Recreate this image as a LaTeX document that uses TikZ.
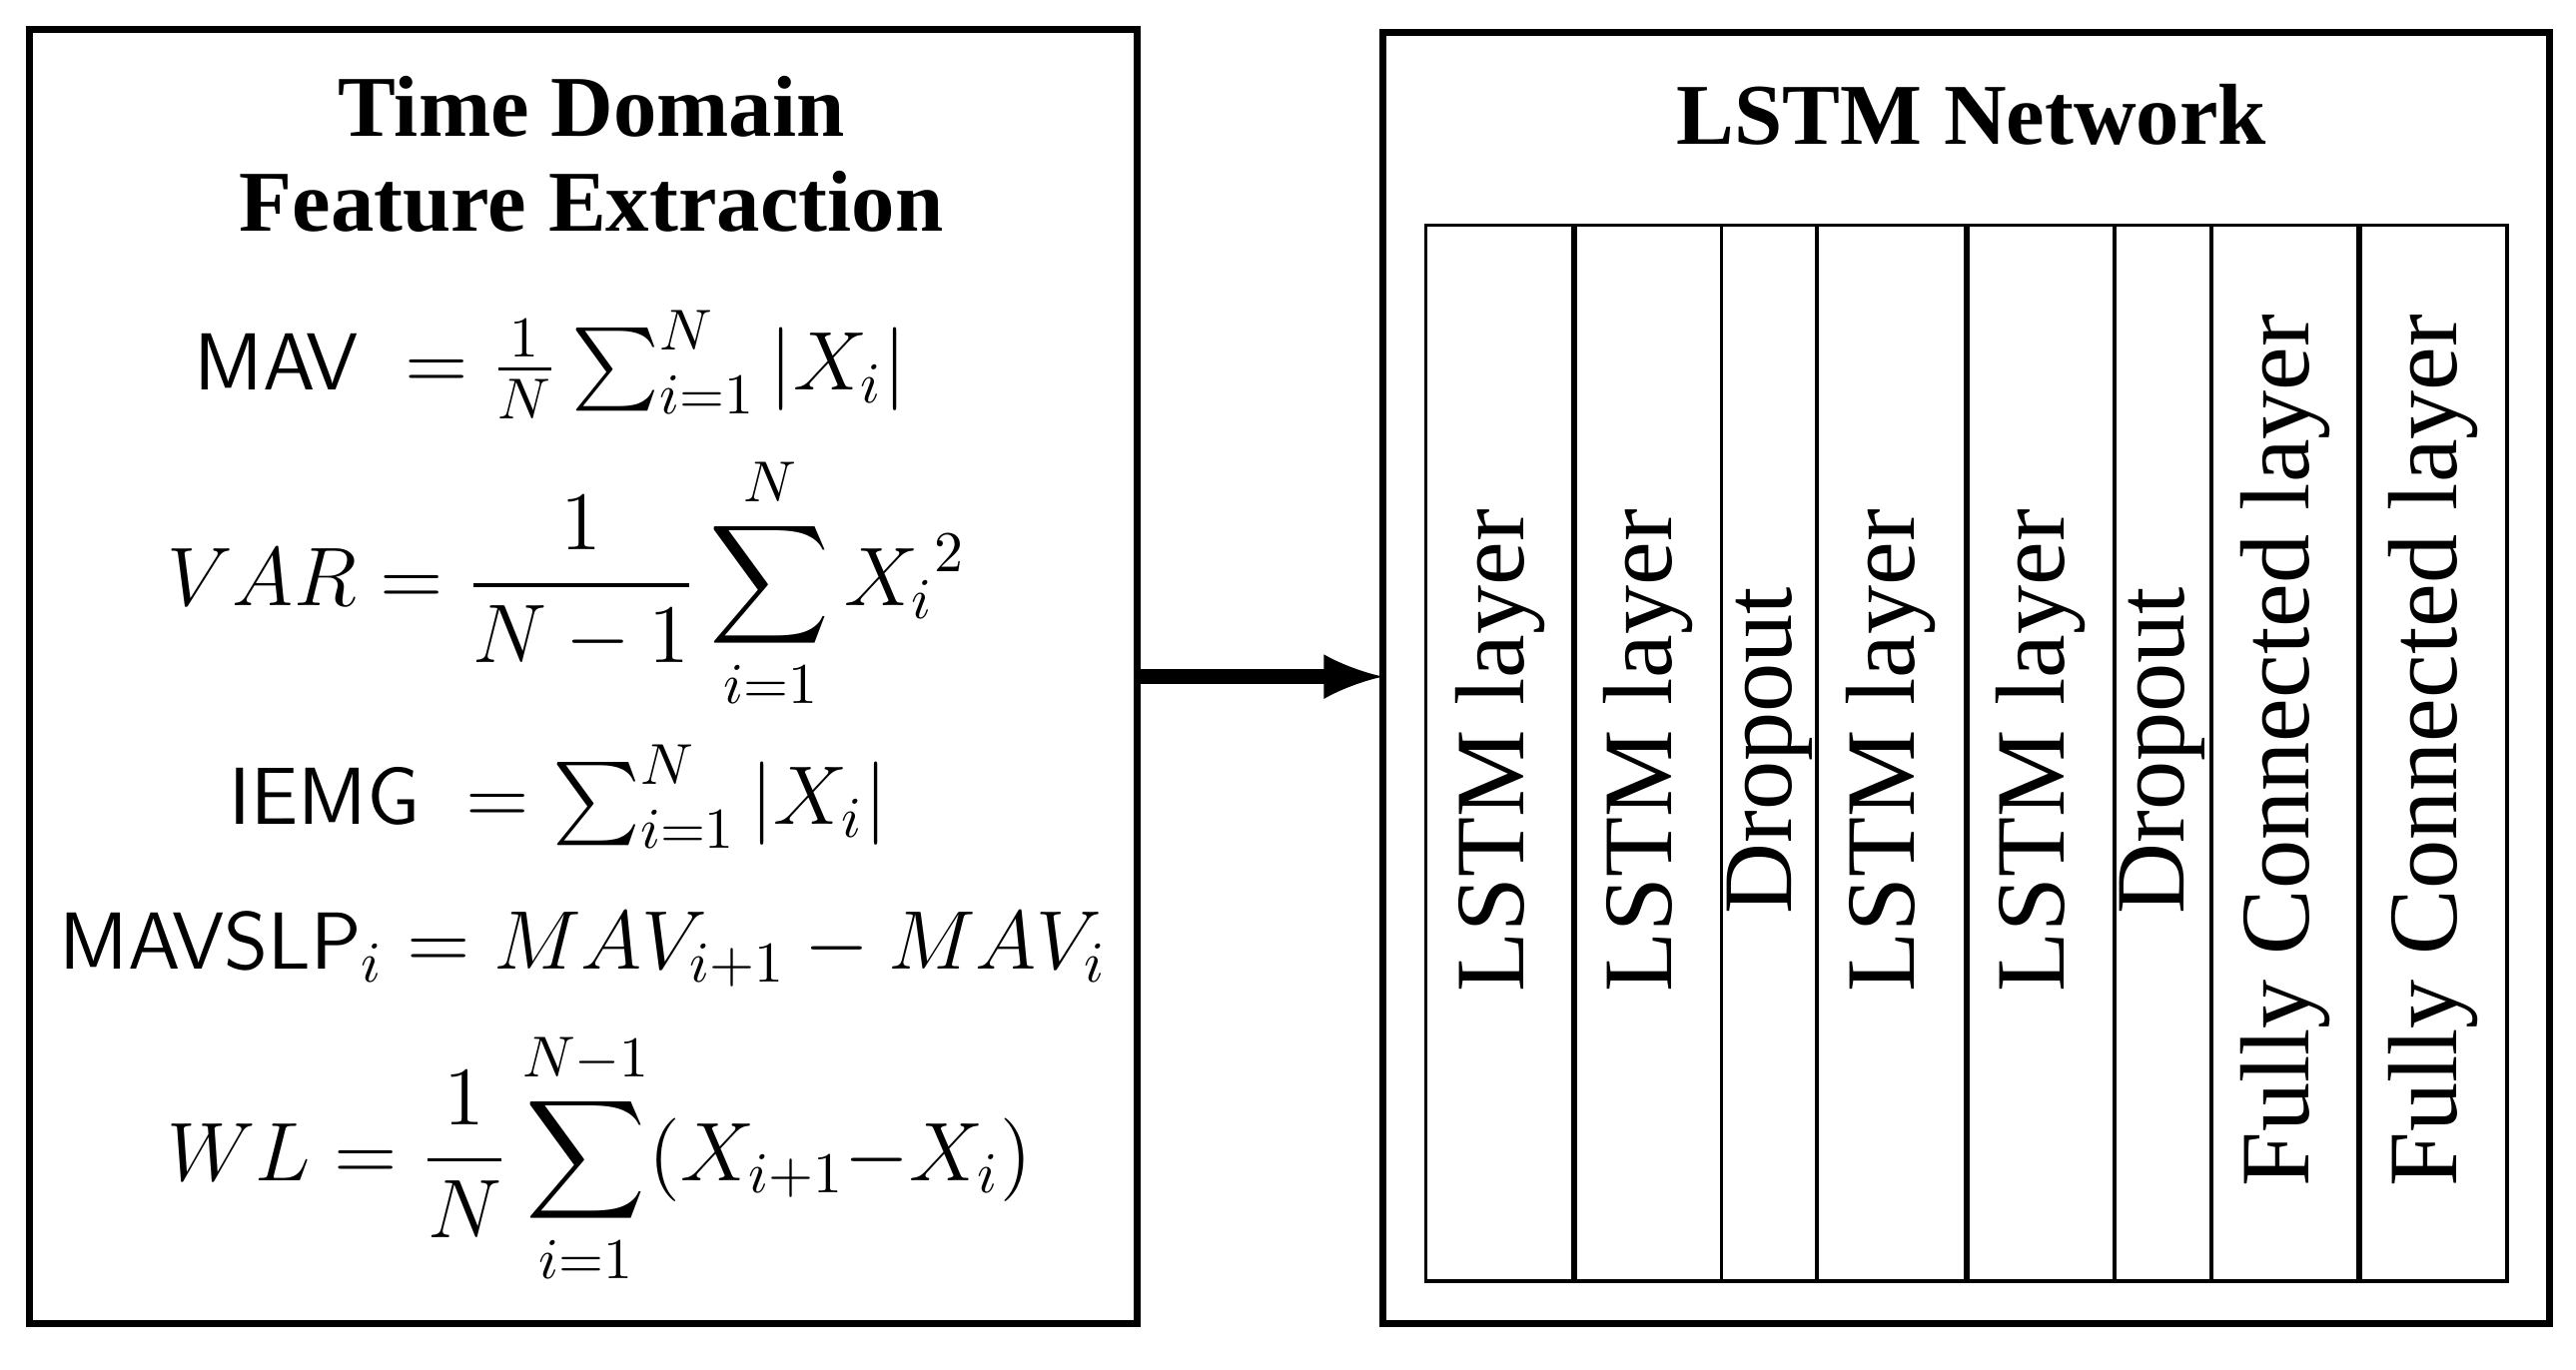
\documentclass[tikz,border=0pt]{standalone}
\usepackage{amsmath}
\usepackage{fontspec}
\setmainfont{Liberation Serif}
\begin{document}
\begin{tikzpicture}[x=0.01cm,y=-0.01cm,
  box/.style={draw,line width=1.2pt},
  lay/.style={rotate=90,font=\fontsize{17}{20}\selectfont},
  eq/.style={font=\fontsize{14}{17}\selectfont},
  ttl/.style={font=\bfseries\fontsize{15}{18}\selectfont,align=center}]
\useasboundingbox (0,0) rectangle (1568,834);
\draw[box] (18,18) rectangle (692,806);
\draw[box] (842,20) rectangle (1552,806);
\node[ttl] (t1) at (360,65) {Time Domain};
\node[ttl] (t2) at (360,123) {Feature Extraction};
\node[ttl] (t3) at (1200,70) {LSTM Network};
\node[eq] (e1) at (335,222) {$\textsf{MAV}\;=\frac{1}{N}\sum_{i=1}^{N}|X_i|$};
\node[eq] (e2) at (345,355) {$\displaystyle VAR=\frac{1}{N-1}\sum_{i=1}^{N}{X_i}^2$};
\node[eq] (e3) at (340,485) {$\textsf{IEMG}\;=\sum_{i=1}^{N}|X_i|$};
\node[eq] (e4) at (355,578) {$\textsf{MAVSLP}_i=MAV_{i+1}-MAV_i$};
\node[eq] (e5) at (365,705) {$\displaystyle WL=\frac{1}{N}\sum_{i=1}^{N-1}(X_{i+1}{-}X_i)$};
\draw[line width=0.6pt] (868,137) rectangle (1526,780);
\foreach \x/\w in {958/1pt,1048/0.6pt,1106/0.6pt,1197/1pt,1287/0.6pt,1346/0.6pt,1436/1pt}
  \draw[line width=\w] (\x,137) -- (\x,780);
\node[lay] (l1) at (913,457) {LSTM layer};
\node[lay] (l2) at (1003,457) {LSTM layer};
\node[lay] (l3) at (1077,457) {Dropout};
\node[lay] (l4) at (1151,457) {LSTM layer};
\node[lay] (l5) at (1242,457) {LSTM layer};
\node[lay] (l6) at (1316,457) {Dropout};
\node[lay] (l7) at (1391,457) {Fully Connected layer};
\node[lay] (l8) at (1481,457) {Fully Connected layer};
\coordinate (a) at (690,412);
\coordinate (b) at (842,412);
\draw[line width=2.5pt,-latex] (a) -- (b);
\end{tikzpicture}
\end{document}
